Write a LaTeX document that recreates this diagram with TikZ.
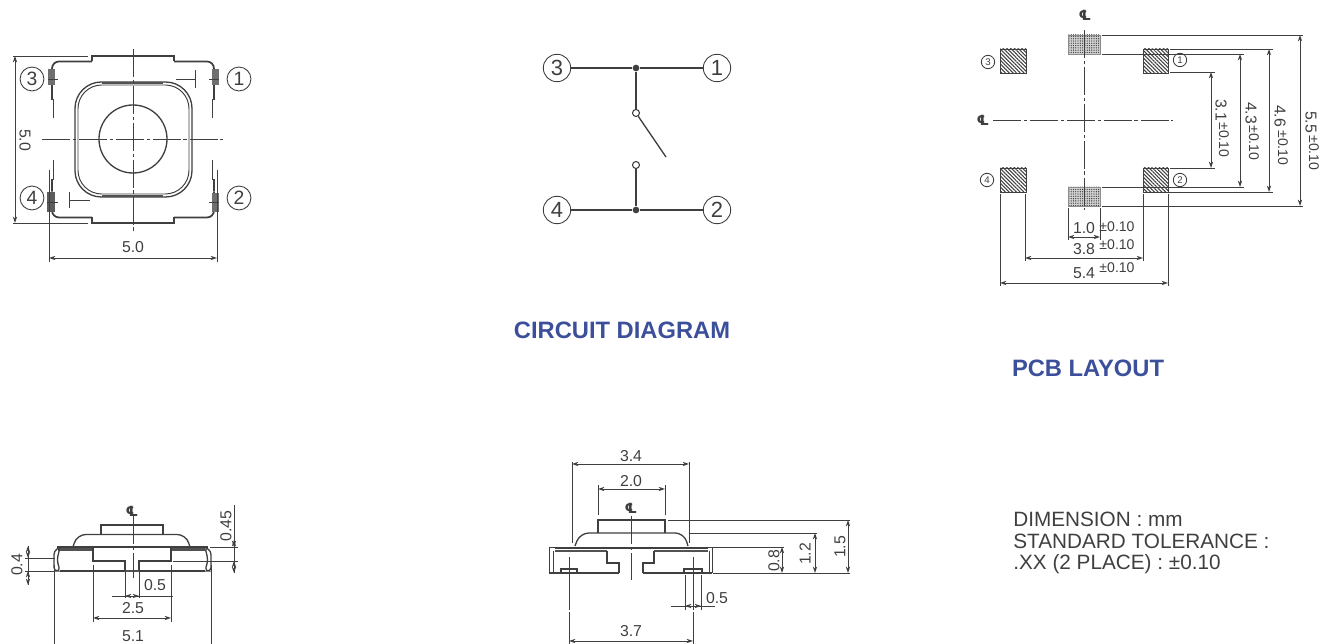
\documentclass[tikz,border=0pt]{standalone}
\usepackage{fontspec}
\setmainfont{Liberation Sans}
\newfontfamily\clfont{DejaVu Sans}
\usepackage{xcolor}
\usepackage{tikz}
\usetikzlibrary{arrows.meta,patterns.meta}
\definecolor{inkgray}{HTML}{3F3F3F}
\definecolor{titleblue}{HTML}{3B4F9B}
\tikzset{
  partline/.style = {draw=inkgray,line width=0.75pt},
  thinline/.style = {draw=inkgray,line width=0.55pt},
  thickline/.style = {draw=inkgray!90,line width=1.3pt},
  dimline/.style = {draw=inkgray,line width=0.55pt,{Stealth[length=3.6pt,width=2.4pt]}-{Stealth[length=3.6pt,width=2.4pt]}},
  centerline/.style = {draw=inkgray,line width=0.5pt,dash pattern=on 16pt off 1.5pt on 2pt off 1.5pt},
  dimlabel/.style = {text=inkgray,inner sep=0pt,font=\fontsize{9}{10}\selectfont},
  tollabel/.style = {text=inkgray,inner sep=0pt,font=\fontsize{8}{9}\selectfont},
  cllabel/.style = {text=inkgray,inner sep=0pt,font=\clfont\bfseries\fontsize{8}{9}\selectfont},
  titlelabel/.style = {text=titleblue,inner sep=0pt,font=\fontsize{13.5}{15}\selectfont\bfseries},
  pinbig/.style = {circle,draw=inkgray,line width=0.5pt,inner sep=0pt,minimum size=13.6pt,text=inkgray,font=\fontsize{11}{12}\selectfont},
  pinbigger/.style = {pinbig,minimum size=15.6pt,font=\fontsize{12.5}{13}\selectfont},
  pinsmall/.style = {circle,draw=inkgray,line width=0.5pt,inner sep=0pt,minimum size=7.6pt,text=inkgray,font=\fontsize{5.5}{6}\selectfont},
  junction/.style = {circle,fill=inkgray,inner sep=0pt,minimum size=3.8pt},
  contact/.style = {circle,draw=inkgray,fill=white,line width=0.6pt,inner sep=0pt,minimum size=4pt},
  hatchpad/.style = {draw=inkgray,line width=0.5pt,pattern={Lines[angle=-45,distance=1.5pt,line width=0.6pt]},pattern color=inkgray},
  dotpad/.style = {draw=inkgray!60,line width=0.4pt,preaction={fill=gray!35},pattern={Dots[distance=1.3pt,radius=0.38pt]},pattern color=inkgray},
  notepar/.style = {text=inkgray,inner sep=0pt,anchor=north west,align=left,font=\fontsize{11.8}{12.2}\selectfont}
}
\begin{document}
\begin{tikzpicture}[x=0.02cm,y=-0.02cm]
\useasboundingbox (0,0) rectangle (1330,644);
% top view
\foreach \sx in {1,-1}{
  \foreach \sy in {1,-1}{
    \begin{scope}[shift={(133,139.5)},xscale=\sx,yscale=\sy]
      \draw[partline] (0,-83.5) -- (-41,-83.5) -- (-41,-78);
      \draw[partline,line width=1pt,rounded corners=4pt] (-41,-78) -- (-81,-78) -- (-81,-52);
      \draw[partline] (-81,-52) -- (-81,-40) -- (-79.5,-40) -- (-79.5,-21);
    \end{scope}
  }
}
\fill[inkgray!75] (48,69) rectangle (55,85);
\fill[inkgray!75] (212,69) rectangle (219,85);
\fill[inkgray!85] (47,192) rectangle (55,212);
\fill[inkgray!75] (212,193) rectangle (219,212);
\draw[thinline] (48,79) -- (58,79) (209,79) -- (219,79) (47,202) -- (58,202) (209,202) -- (219,202);
\draw[partline,rounded corners=15pt] (75,82) rectangle (192,197);
\draw[thinline,rounded corners=13.5pt] (78,85) rectangle (189,194);
\draw[thickline] (102,83) -- (163,83) (102,196) -- (163,196);
\draw[partline] (133,139) circle (34);
\draw[centerline] (133,49) -- (133,232);
\draw[centerline] (42,139) -- (223,139);
\draw[thinline] (176,79) -- (195,79) (195,70) -- (195,88);
\draw[thinline] (90,200) -- (69,200) (69,192) -- (69,208);
\node[pinbig] (t3) at (32,79) {3};
\node[pinbig] (t1) at (239,79) {1};
\node[pinbig] (t4) at (32,198) {4};
\node[pinbig] (t2) at (239,198) {2};
\draw[thinline] (13,56) -- (88,56) (13,223) -- (88,223);
\draw[dimline] (15,56) -- (15,223);
\node[dimlabel,rotate=-90] (tv50a) at (25,140) {5.0};
\draw[thinline] (49,170) -- (49,262) (217,170) -- (217,262);
\draw[dimline] (49,258) -- (217,258);
\node[dimlabel] (tv50b) at (133,247) {5.0};
% circuit
\node[pinbigger] (c3) at (557,68) {3};
\node[pinbigger] (c1) at (717,68) {1};
\node[pinbigger] (c4) at (557,210) {4};
\node[pinbigger] (c2) at (717,210) {2};
\node[junction] (n13) at (636,68) {};
\node[junction] (n42) at (636,210) {};
\node[contact] (s1) at (636,113) {};
\node[contact] (s2) at (636,165) {};
\coordinate (swend) at (666,157);
\draw[partline] (c3) -- (n13);
\draw[partline] (n13) -- (c1);
\draw[partline] (c4) -- (n42);
\draw[partline] (n42) -- (c2);
\draw[partline] (n13) -- (s1);
\draw[partline] (s2) -- (n42);
\draw[partline] (s1) -- (swend);
\node[titlelabel] (circuittitle) at (622,330) {CIRCUIT DIAGRAM};
% pcb layout
\draw[hatchpad] (1000,49) rectangle (1026,73);
\draw[hatchpad] (1143,49) rectangle (1168,73);
\draw[hatchpad] (1000,168) rectangle (1026,192);
\draw[hatchpad] (1143,168) rectangle (1168,192);
\draw[dotpad] (1068,35) rectangle (1100,54);
\draw[dotpad] (1068,187) rectangle (1100,206);
\draw[centerline] (1084,30) -- (1084,210);
\draw[centerline] (993,120) -- (1173,120);
\node[cllabel] (pcbclv) at (1085,15) {℄};
\node[cllabel] (pcbclh) at (983,120) {℄};
\node[pinsmall] (p3) at (988,62) {3};
\node[pinsmall] (p1) at (1180,60) {1};
\node[pinsmall] (p4) at (987,180) {4};
\node[pinsmall] (p2) at (1180,180) {2};
\draw[thinline] (1170,72) -- (1215,72) (1170,168) -- (1215,168);
\draw[dimline] (1211,72) -- (1211,168);
\node[dimlabel,rotate=-90] (d31) at (1221,110) {3.1};
\node[tollabel,rotate=-90] (d31t) at (1224,140) {±0.10};
\draw[thinline] (1102,54) -- (1244,54) (1102,187) -- (1244,187);
\draw[dimline] (1240,54) -- (1240,187);
\node[dimlabel,rotate=-90] (d43) at (1251,113) {4.3};
\node[tollabel,rotate=-90] (d43t) at (1254,143) {±0.10};
\draw[thinline] (1170,49) -- (1273,49) (1143,192) -- (1273,192);
\draw[dimline] (1269,49) -- (1269,192);
\node[dimlabel,rotate=-90] (d46) at (1280,116) {4.6};
\node[tollabel,rotate=-90] (d46t) at (1283,148) {±0.10};
\draw[thinline] (1102,35) -- (1303,35) (1102,206) -- (1303,206);
\draw[dimline] (1300,35) -- (1300,206);
\node[dimlabel,rotate=-90] (d55) at (1311,122) {5.5};
\node[tollabel,rotate=-90] (d55t) at (1314,153) {±0.10};
\draw[thinline] (1068,208) -- (1068,240) (1100,208) -- (1100,240);
\draw[dimline] (1068,237) -- (1100,237);
\node[dimlabel] (d10) at (1084,228) {1.0};
\node[tollabel] (d10t) at (1117,227) {±0.10};
\draw[thinline] (1025,194) -- (1025,261) (1143,194) -- (1143,261);
\draw[dimline] (1025,258) -- (1143,258);
\node[dimlabel] (d38) at (1084,249) {3.8};
\node[tollabel] (d38t) at (1117,245) {±0.10};
\draw[thinline] (1000,194) -- (1000,286) (1168,194) -- (1168,286);
\draw[dimline] (1000,283) -- (1168,283);
\node[dimlabel] (d54) at (1084,273) {5.4};
\node[tollabel] (d54t) at (1117,268) {±0.10};
\node[titlelabel] (pcbtitle) at (1088,368) {PCB LAYOUT};
% front view
\draw[partline] (101,534) -- (101,525) -- (163,525) -- (163,534);
\draw[partline,rounded corners=5pt] (73,547) -- (77,534.5) -- (186,534.5) -- (190,547);
\draw[partline] (57,547) -- (208,547);
\draw[thickline] (58,549.5) -- (92,549.5) (172,549.5) -- (205,549.5);
\draw[partline] (93,547) -- (93,561) -- (125,561) -- (125,571) -- (139,571) -- (139,561) -- (171,561) -- (171,547);
\draw[thickline] (125,571) -- (139,571);
\draw[partline] (60,571) -- (125,571) (139,571) -- (205,571);
\draw[partline,rounded corners=2pt] (60,547) -- (54,551) -- (54,571) -- (60,571) -- (57,560) -- cycle;
\draw[partline,rounded corners=2pt] (205,547) -- (211,551) -- (211,571) -- (205,571) -- (208,560) -- cycle;
\draw[centerline] (133,516) -- (133,578);
\node[cllabel] (frontcl) at (132,511) {℄};
\draw[thinline] (25,558) -- (55,558) (25,571) -- (54,571) (28,546) -- (28,585);
\draw[dimline] (28,546) -- (28,558);
\draw[dimline] (28,585) -- (28,571);
\node[dimlabel,rotate=90] (d04) at (17,565) {0.4};
\draw[thinline] (210,547) -- (238,547) (173,561) -- (238,561) (234,505) -- (234,573);
\draw[dimline] (234,540) -- (234,547);
\draw[dimline] (234,573) -- (234,561);
\node[dimlabel,rotate=90] (d045) at (226,526) {0.45};
\draw[thinline] (125,571) -- (125,598) (139,571) -- (139,598);
\draw[thinline] (112,596) -- (173,596);
\draw[dimline] (125,596) -- (139,596);
\node[dimlabel] (d05a) at (155,585) {0.5};
\draw[thinline] (93,565) -- (93,622) (171,565) -- (171,622);
\draw[dimline] (93,618) -- (171,618);
\node[dimlabel] (d25) at (133,608) {2.5};
\draw[thinline] (54,565) -- (54,644) (211,565) -- (211,644);
\node[dimlabel] (d51) at (133,636) {5.1};
% side view
\draw[partline] (598,533) -- (598,520) -- (665,520) -- (665,533);
\draw[partline,rounded corners=5pt] (575,546) -- (580,533) -- (684,533) -- (688,546);
\draw[thinline] (549,547) -- (712,547) (549,547) -- (549,573) (712,547) -- (712,573);
\draw[partline] (549,573) -- (619,573) (643,573) -- (712,573);
\draw[thinline] (553,551) -- (553,573) (709,551) -- (709,573);
\draw[thickline] (555,551) -- (607,551) (654,551) -- (708,551);
\draw[thinline] (555,548.5) -- (708,548.5);
\draw[partline] (607,551) -- (607,563) -- (619,563) -- (619,573);
\draw[partline] (654,551) -- (654,563) -- (643,563) -- (643,573);
\draw[partline] (561,573) -- (561,569) -- (577,569) -- (577,573);
\draw[partline] (684,573) -- (684,569) -- (702,569) -- (702,573);
\draw[centerline] (631,516) -- (631,580);
\node[cllabel] (sidecl) at (631,508) {℄};
\draw[thinline] (572,462) -- (572,543) (689,462) -- (689,543);
\draw[dimline] (572,464) -- (689,464);
\node[dimlabel] (d34) at (631,456) {3.4};
\draw[thinline] (598,485) -- (598,515) (665,485) -- (665,515);
\draw[dimline] (598,489) -- (665,489);
\node[dimlabel] (d20) at (631,481) {2.0};
\draw[thinline] (668,520) -- (850,520) (690,533) -- (817,533) (711,547) -- (784,547) (713,573) -- (850,573);
\draw[dimline] (848,520) -- (848,573);
\node[dimlabel,rotate=90] (d15) at (840,547) {1.5};
\draw[dimline] (815,533) -- (815,573);
\node[dimlabel,rotate=90] (d12) at (805,554) {1.2};
\draw[dimline] (782,547) -- (782,573);
\node[dimlabel,rotate=90] (d08) at (774,561) {0.8};
\draw[thinline,dash pattern=on 30pt off 1.5pt] (569,557) -- (569,644);
\draw[thinline,dash pattern=on 30pt off 1.5pt] (693,557) -- (693,644);
\draw[dimline] (569,641) -- (693,641);
\node[dimlabel] (d37) at (631,631) {3.7};
\draw[thinline] (685,575) -- (685,610) (701,575) -- (701,610);
\draw[thinline] (671,606) -- (715,606);
\draw[dimline] (685,606) -- (701,606);
\node[dimlabel] (d05b) at (717,598) {0.5};
% notes
\node[notepar] (notes) at (1013,512) {DIMENSION : mm\\STANDARD TOLERANCE :\\.XX (2 PLACE) : ±0.10};
\end{tikzpicture}
\end{document}
